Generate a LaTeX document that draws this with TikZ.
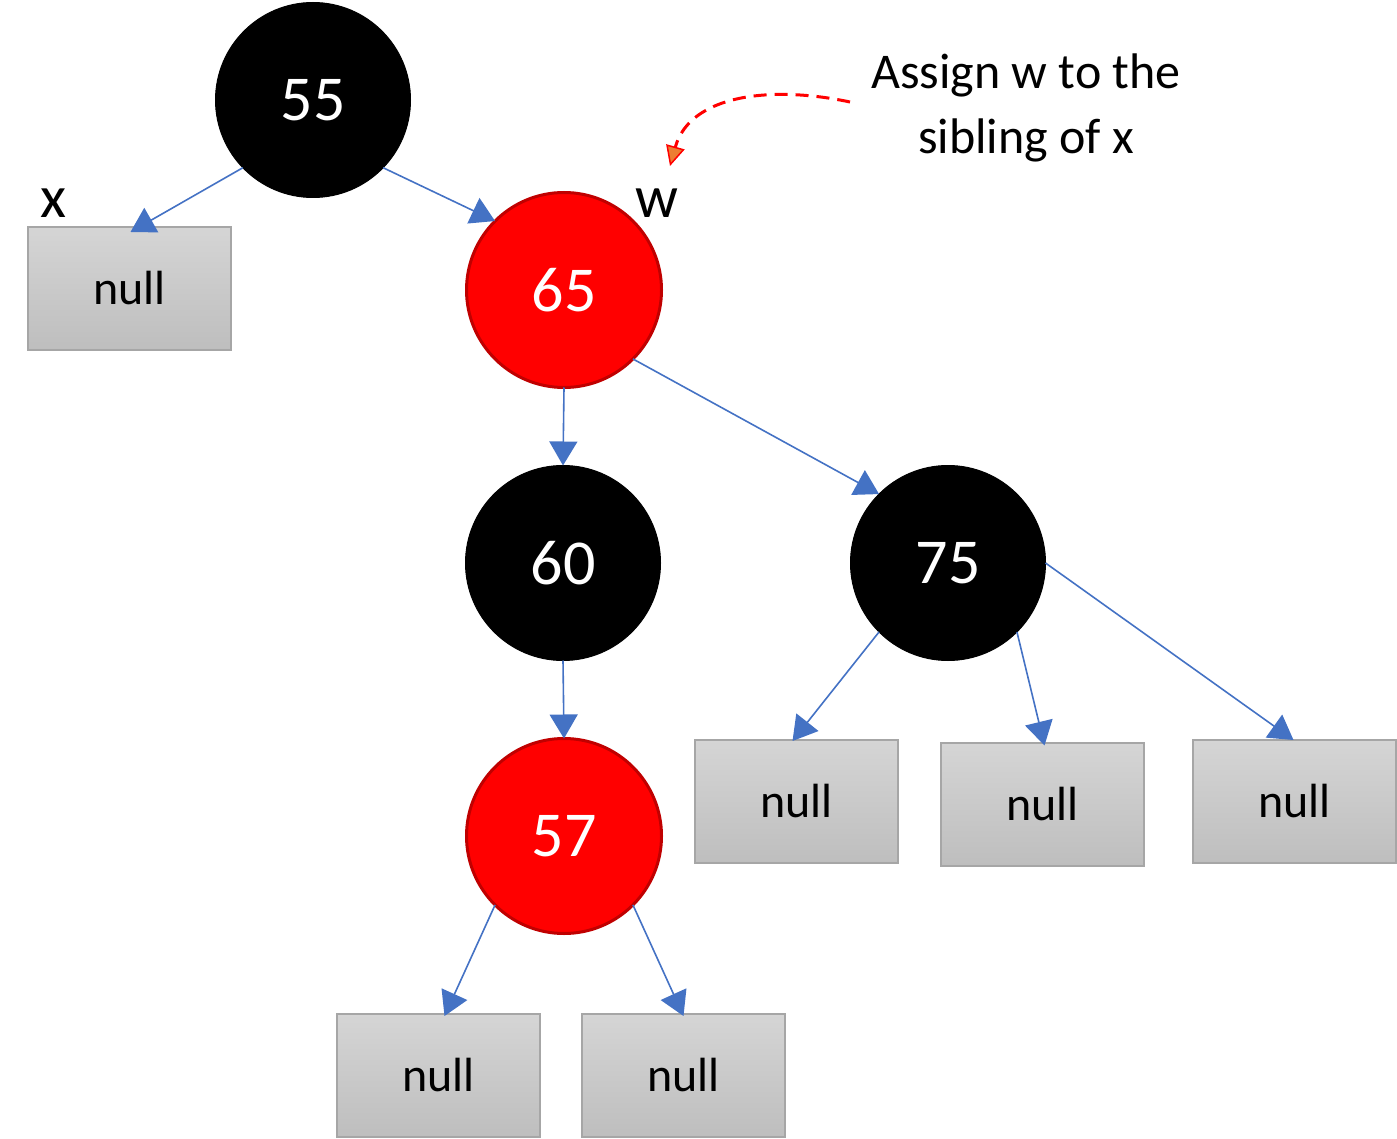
\documentclass[tikz,border=0pt]{standalone}
\usepackage{fontspec}
\setmainfont{Carlito}
\usetikzlibrary{arrows.meta}
\definecolor{edgeblue}{HTML}{4472C4}
\definecolor{rbord}{HTML}{C00000}
\definecolor{boxtop}{HTML}{D5D5D5}
\definecolor{boxbot}{HTML}{BEBEBE}
\definecolor{boxline}{HTML}{A6A6A6}
\definecolor{headfill}{HTML}{ED7D31}
\tikzset{
  rbnode/.style={circle,minimum size=195pt,inner sep=0pt,outer sep=0pt,text=white,font=\fontsize{64}{70}\selectfont},
  blacknode/.style={rbnode,fill=black,draw=black,line width=1pt},
  rednode/.style={rbnode,fill=red,draw=rbord,line width=3pt},
  nullbox/.style={rectangle,minimum width=203pt,minimum height=123pt,inner sep=0pt,outer sep=0pt,
    top color=boxtop,bottom color=boxbot,draw=boxline,line width=2pt,font=\fontsize{48}{54}\selectfont},
  edge/.style={draw=edgeblue,line width=1.6pt,-{Triangle[length=24pt,width=28pt]}},
  lbl/.style={font=\fontsize{60}{66}\selectfont,anchor=base,inner sep=0pt},
  notetext/.style={font=\fontsize{50}{56}\selectfont,anchor=base,inner sep=0pt},
}
\begin{document}
\begin{tikzpicture}[x=1pt,y=-1pt]
\useasboundingbox (0,0) rectangle (1397,1139);
% circles
\node[blacknode] (n55) at (313,100) {55};
\node[rednode] (n65) at (564,290) {65};
\node[blacknode] (n60) at (563,563) {60};
\node[blacknode] (n75) at (948,563) {75};
\node[rednode] (n57) at (564,836) {57};
% null boxes
\node[nullbox] (z1) at (129.5,288.5) {\raisebox{-3pt}{null}};
\node[nullbox] (z2) at (796.5,801.5) {\raisebox{-3pt}{null}};
\node[nullbox] (z3) at (1042.5,804) {\raisebox{-3pt}{null}};
\node[nullbox] (z4) at (1294.5,801.5) {\raisebox{-3pt}{null}};
\node[nullbox] (z5) at (438.5,1075.5) {\raisebox{-3pt}{null}};
\node[nullbox] (z6) at (683.5,1075.5) {\raisebox{-3pt}{null}};
% labels
\node[lbl] (lx) at (53,218) {x};
\node[lbl] (lw) at (657,218) {w};
\node[notetext] (note1) at (1026,89) {Assign w to the};
\node[notetext] (note2) at (1026,154) {sibling of x};
% edges
\draw[edge] (n55.-136) -- ([xshift=1pt,yshift=-5pt]z1.north);
\draw[edge] (n55.-44) -- (n65.135);
\draw[edge] (n65.-90) -- (n60.north);
\draw[edge] (n65.-45) -- (n75.135);
\draw[edge] (n60.south) -- (n57.north);
\draw[edge] (n75.-135) -- ([xshift=-4pt,yshift=-1pt]z2.north);
\draw[edge] (n75.-45) -- ([xshift=2pt,yshift=-3pt]z3.north);
\draw[edge] (n75.0) -- ([xshift=-1pt]z4.north);
\draw[edge] (n57.-135) -- ([xshift=6pt,yshift=-2pt]z5.north);
\draw[edge] (n57.-45) -- ([yshift=-2pt]z6.north);
% annotation arrow
\coordinate (ns) at (850,102);
\coordinate (ne) at (670,166);
\draw[red,line width=3pt,dash pattern=on 13pt off 8pt,
  -{Triangle[length=20pt,width=19pt,fill=headfill,line width=1.5pt]}]
  (ns) .. controls (770,85) and (690,95) .. (ne);
\end{tikzpicture}
\end{document}
